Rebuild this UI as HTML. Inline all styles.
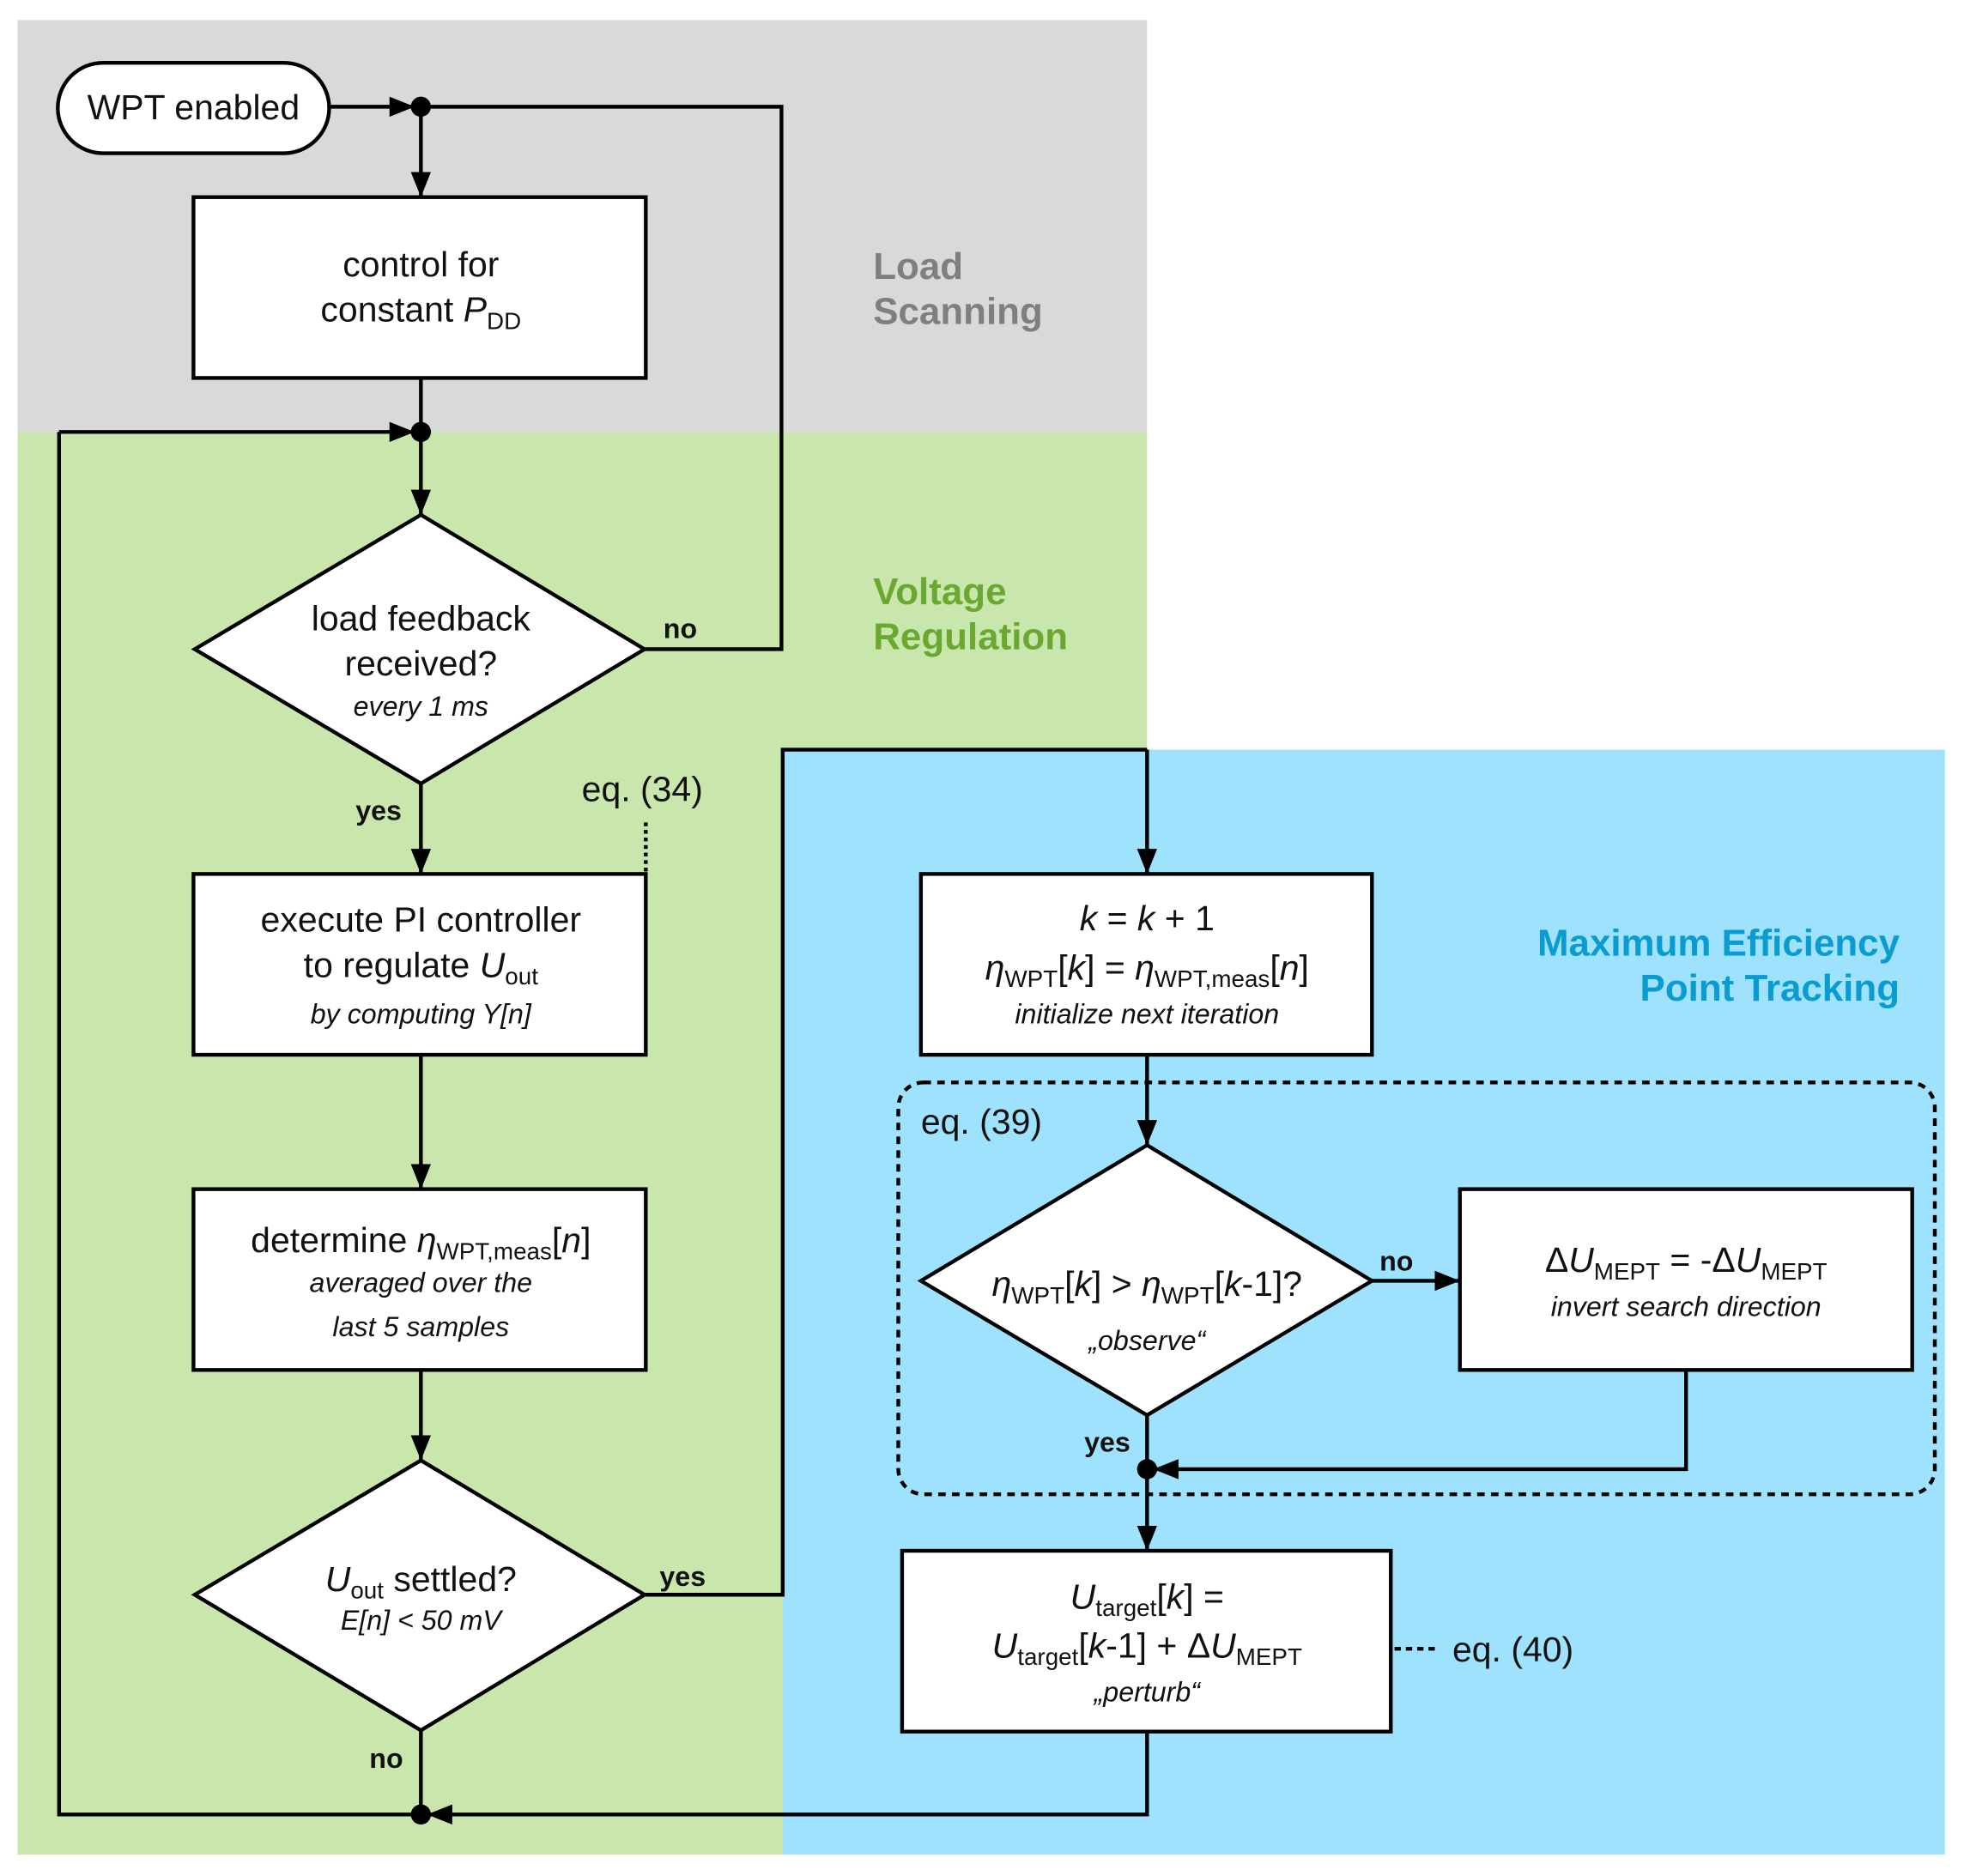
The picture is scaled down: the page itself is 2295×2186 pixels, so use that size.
<!DOCTYPE html>
<html><head><meta charset="utf-8"><style>
html,body{margin:0;padding:0;background:#fff}
svg{display:block}
text{font-family:"Liberation Sans","DejaVu Sans",sans-serif;fill:#111}
.m{font-size:28px}
.i{font-size:22px;font-style:italic}
.b{font-size:22px;font-weight:bold}
.s{font-size:19px}
.h{font-size:30px;font-weight:bold}
</style></head><body>
<svg width="2295" height="2186" viewBox="0 0 1568 1494" preserveAspectRatio="none" xmlns="http://www.w3.org/2000/svg">
<defs>
<marker id="A" markerWidth="20" markerHeight="16" refX="20" refY="8" orient="auto" markerUnits="userSpaceOnUse">
<path d="M0,0 L20,8 L0,16 z" fill="#000"/></marker>
</defs>
<rect x="14" y="16" width="899" height="328" fill="#d9d9d9"/>
<rect x="14" y="344" width="899" height="253" fill="#c9e6ad"/>
<rect x="14" y="597" width="609" height="880" fill="#c9e6ad"/>
<rect x="623" y="597" width="925" height="880" fill="#9fe2fd"/>

<g stroke="#000" stroke-width="3" fill="none">
<rect x="46" y="50" width="216" height="72" rx="36" fill="#fff"/>
<line x1="262" y1="85" x2="330" y2="85" marker-end="url(#A)"/>
<polyline points="335,85 622,85 622,517 513,517"/>
<line x1="335" y1="85" x2="335" y2="157" marker-end="url(#A)"/>
<rect x="154" y="157" width="360" height="144" fill="#fff"/>
<line x1="335" y1="301" x2="335" y2="344"/>
<line x1="47" y1="344" x2="330" y2="344" marker-end="url(#A)"/>
<line x1="335" y1="344" x2="335" y2="410" marker-end="url(#A)"/>
<polygon points="335,410 513,517 335,624 155,517" fill="#fff"/>
<line x1="335" y1="624" x2="335" y2="696" marker-end="url(#A)"/>
<line x1="514" y1="655" x2="514" y2="696" stroke-dasharray="3,3"/>
<rect x="154" y="696" width="360" height="144" fill="#fff"/>
<line x1="335" y1="840" x2="335" y2="947" marker-end="url(#A)"/>
<rect x="154" y="947" width="360" height="144" fill="#fff"/>
<line x1="335" y1="1091" x2="335" y2="1163" marker-end="url(#A)"/>
<polygon points="335,1163 513,1270 335,1378 155,1270" fill="#fff"/>
<polyline points="513,1270 623,1270 623,597 913,597"/>
<line x1="913" y1="597" x2="913" y2="696" marker-end="url(#A)"/>
<line x1="335" y1="1378" x2="335" y2="1445"/>
<polyline points="335,1445 47,1445 47,344"/>
<polyline points="913,1379 913,1445 340,1445" marker-end="url(#A)"/>
<rect x="733" y="696" width="359" height="144" fill="#fff"/>
<line x1="913" y1="840" x2="913" y2="912" marker-end="url(#A)"/>
<rect x="715" y="862" width="825" height="328" rx="20" stroke-dasharray="6,5"/>
<polygon points="913,912 1092,1020 913,1127 733,1020" fill="#fff"/>
<line x1="1092" y1="1020" x2="1162" y2="1020" marker-end="url(#A)"/>
<rect x="1162" y="947" width="360" height="144" fill="#fff"/>
<polyline points="1342,1091 1342,1170 918,1170" marker-end="url(#A)"/>
<line x1="913" y1="1127" x2="913" y2="1235" marker-end="url(#A)"/>
<rect x="718" y="1235" width="389" height="144" fill="#fff"/>
<line x1="1110" y1="1313" x2="1145" y2="1313" stroke-dasharray="5,4"/>
</g>
<g fill="#000">
<circle cx="335" cy="85" r="8"/><circle cx="335" cy="344" r="8"/>
<circle cx="335" cy="1445" r="8"/><circle cx="913" cy="1170" r="8"/>
</g>

<g text-anchor="middle">
<text class="m" x="154" y="95">WPT enabled</text>
<text class="m" x="335" y="220">control for</text>
<text class="m" x="335" y="256">constant <tspan font-style="italic">P</tspan><tspan class="s" dy="6">DD</tspan></text>
<text class="m" x="335" y="502">load feedback</text>
<text class="m" x="335" y="538">received?</text>
<text class="i" x="335" y="570">every 1 ms</text>
<text class="m" x="335" y="742">execute PI controller</text>
<text class="m" x="335" y="778">to regulate <tspan font-style="italic">U</tspan><tspan class="s" dy="6">out</tspan></text>
<text class="i" x="335" y="815">by computing Y[n]</text>
<text class="m" x="335" y="997">determine <tspan font-style="italic">η</tspan><tspan class="s" dy="6">WPT,meas</tspan><tspan dy="-6">[</tspan><tspan font-style="italic">n</tspan>]</text>
<text class="i" x="335" y="1029">averaged over the</text>
<text class="i" x="335" y="1064">last 5 samples</text>
<text class="m" x="335" y="1267"><tspan font-style="italic">U</tspan><tspan class="s" dy="6">out</tspan><tspan dy="-6"> settled?</tspan></text>
<text class="i" x="335" y="1298">E[n] &lt; 50 mV</text>
<text class="m" x="913" y="741"><tspan font-style="italic">k</tspan> = <tspan font-style="italic">k</tspan> + 1</text>
<text class="m" x="913" y="780"><tspan font-style="italic">η</tspan><tspan class="s" dy="6">WPT</tspan><tspan dy="-6">[</tspan><tspan font-style="italic">k</tspan>] = <tspan font-style="italic">η</tspan><tspan class="s" dy="6">WPT,meas</tspan><tspan dy="-6">[</tspan><tspan font-style="italic">n</tspan>]</text>
<text class="i" x="913" y="815">initialize next iteration</text>
<text class="m" x="913" y="1032"><tspan font-style="italic">η</tspan><tspan class="s" dy="6">WPT</tspan><tspan dy="-6">[</tspan><tspan font-style="italic">k</tspan>] &gt; <tspan font-style="italic">η</tspan><tspan class="s" dy="6">WPT</tspan><tspan dy="-6">[</tspan><tspan font-style="italic">k</tspan>-1]?</text>
<text class="i" x="913" y="1075">„observe“</text>
<text class="m" x="1342" y="1013">Δ<tspan font-style="italic">U</tspan><tspan class="s" dy="6">MEPT</tspan><tspan dy="-6"> = -Δ</tspan><tspan font-style="italic">U</tspan><tspan class="s" dy="6">MEPT</tspan></text>
<text class="i" x="1342" y="1048">invert search direction</text>
<text class="m" x="913" y="1281"><tspan font-style="italic">U</tspan><tspan class="s" dy="6">target</tspan><tspan dy="-6">[</tspan><tspan font-style="italic">k</tspan>] =</text>
<text class="m" x="913" y="1320"><tspan font-style="italic">U</tspan><tspan class="s" dy="6">target</tspan><tspan dy="-6">[</tspan><tspan font-style="italic">k</tspan>-1] + Δ<tspan font-style="italic">U</tspan><tspan class="s" dy="6">MEPT</tspan></text>
<text class="i" x="913" y="1355">„perturb“</text>
</g>

<text class="b" x="528" y="508">no</text>
<text class="b" x="283" y="653">yes</text>
<text class="b" x="525" y="1263">yes</text>
<text class="b" x="294" y="1408">no</text>
<text class="b" x="1098" y="1012">no</text>
<text class="b" x="863" y="1156">yes</text>
<text class="m" x="463" y="638">eq. (34)</text>
<text class="m" x="733" y="903">eq. (39)</text>
<text class="m" x="1156" y="1323">eq. (40)</text>

<text class="h" x="695" y="222" style="fill:#7f7f7f">Load</text>
<text class="h" x="695" y="258" style="fill:#7f7f7f">Scanning</text>
<text class="h" x="695" y="481" style="fill:#6aa832">Voltage</text>
<text class="h" x="695" y="517" style="fill:#6aa832">Regulation</text>
<text class="h" x="1512" y="761" text-anchor="end" style="fill:#0a9bd0">Maximum Efficiency</text>
<text class="h" x="1512" y="797" text-anchor="end" style="fill:#0a9bd0">Point Tracking</text>
</svg>
</body></html>
